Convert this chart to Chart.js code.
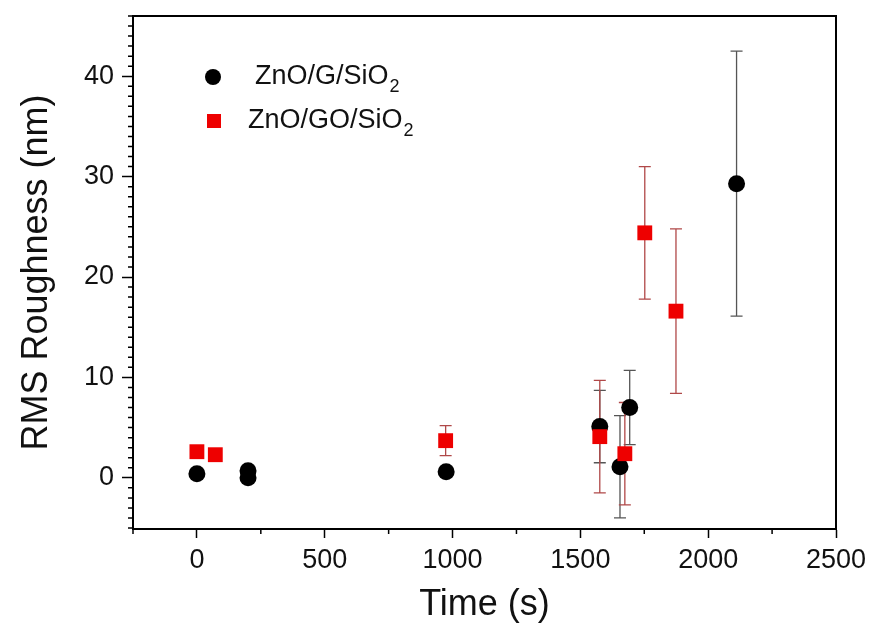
<!DOCTYPE html>
<html>
<head>
<meta charset="utf-8">
<script src="https://cdn.jsdelivr.net/npm/chart.js@4.4.1/dist/chart.umd.min.js"></script>
<style>
  html, body { margin: 0; padding: 0; background: #fff; }
  #wrap { width: 878px; height: 636px; }
</style>
</head>
<body>
<div id="wrap"><canvas id="chart_1" width="878" height="636"></canvas></div>
<script>
// ZnO/G/SiO2 (black circles)
const gTime = [0, 200, 200, 975, 1576, 1655, 1693, 2111];
const gRms = [0.4, 0.7, 0.0, 0.6, 5.1, 1.1, 7.0, 29.3];
const gErr = [0, 0, 0, 0, 3.6, 5.1, 3.7, 13.2];

// ZnO/GO/SiO2 (red squares)
const goTime = [0, 72, 973, 1576, 1674, 1752, 1874];
const goRms = [2.6, 2.3, 3.7, 4.1, 2.4, 24.4, 16.6];
const goErr = [0, 0, 1.5, 5.6, 5.1, 6.6, 8.2];

const xTicks = [0, 500, 1000, 1500, 2000, 2500];
const yTicks = [0, 10, 20, 30, 40];

const FONT = "'Liberation Sans', Arial, sans-serif";

function toPoints(xs, ys, errs) {
  return xs.map((x, i) => ({ x: x, y: ys[i], err: errs[i] }));
}

// error bars under the markers
const errorBars = {
  id: "errorBars",
  beforeDatasetsDraw(chart) {
    const ctx = chart.ctx;
    const xs = chart.scales.x;
    const ys = chart.scales.y;
    chart.data.datasets.forEach((ds) => {
      ctx.save();
      ctx.strokeStyle = ds.errColor;
      ctx.lineWidth = 1.3;
      ds.data.forEach((p) => {
        if (!p.err) return;
        const px = xs.getPixelForValue(p.x);
        const top = ys.getPixelForValue(p.y + p.err);
        const bot = ys.getPixelForValue(p.y - p.err);
        ctx.beginPath();
        ctx.moveTo(px, top);
        ctx.lineTo(px, bot);
        ctx.moveTo(px - 6, top);
        ctx.lineTo(px + 6, top);
        ctx.moveTo(px - 6, bot);
        ctx.lineTo(px + 6, bot);
        ctx.stroke();
      });
      ctx.restore();
    });
  },
};

// frame, minor ticks and the legend box inside the plot
const frameAndLegend = {
  id: "frameAndLegend",
  afterDraw(chart) {
    const ctx = chart.ctx;
    const area = chart.chartArea;
    const xs = chart.scales.x;
    const ys = chart.scales.y;
    ctx.save();
    ctx.strokeStyle = "#000";
    ctx.lineWidth = 2;
    ctx.strokeRect(area.left, area.top, area.right - area.left, area.bottom - area.top);

    // minor ticks
    ctx.lineWidth = 1.5;
    ctx.beginPath();
    for (let v = -5; v <= 46; v++) {
      if (v % 10 === 0) continue;
      const py = ys.getPixelForValue(v);
      ctx.moveTo(area.left - 5, py);
      ctx.lineTo(area.left, py);
    }
    for (let v = -250; v <= 2500; v += 500) {
      const px = xs.getPixelForValue(v);
      ctx.moveTo(px, area.bottom);
      ctx.lineTo(px, area.bottom + 5);
    }
    ctx.stroke();

    // legend
    ctx.fillStyle = "#000";
    ctx.beginPath();
    ctx.arc(213, 77, 8, 0, Math.PI * 2);
    ctx.fill();
    ctx.fillStyle = "#ee0000";
    ctx.fillRect(207, 114, 14, 14);

    ctx.fillStyle = "#111";
    ctx.textBaseline = "middle";
    const labels = [
      ["ZnO/G/SiO", 255, 77],
      ["ZnO/GO/SiO", 248, 121],
    ];
    labels.forEach(([t, x, y]) => {
      ctx.font = "27px " + FONT;
      ctx.fillText(t, x, y);
      const w = ctx.measureText(t).width;
      ctx.font = "18px " + FONT;
      ctx.fillText("2", x + w + 1, y + 10);
    });
    ctx.restore();
  },
};

const ctx = document.getElementById("chart_1").getContext("2d");

window.myChart = new Chart(ctx, {
  type: "scatter",
  data: {
    datasets: [
      {
        label: "ZnO/G/SiO2",
        data: toPoints(gTime, gRms, gErr),
        pointStyle: "circle",
        pointRadius: 8.5,
        pointHoverRadius: 8.5,
        backgroundColor: "#000",
        borderColor: "#000",
        borderWidth: 0,
        errColor: "#555",
        order: 2,
      },
      {
        label: "ZnO/GO/SiO2",
        data: toPoints(goTime, goRms, goErr),
        pointStyle: "rect",
        pointRadius: 10.5,
        pointHoverRadius: 10.5,
        backgroundColor: "#ee0000",
        borderColor: "#ee0000",
        borderWidth: 0,
        errColor: "#b04848",
        order: 1,
      },
    ],
  },
  options: {
    responsive: false,
    animation: false,
    layout: {
      padding: { top: 16, right: 42, left: 0, bottom: 0 },
    },
    scales: {
      x: {
        type: "linear",
        min: -250,
        max: 2500,
        afterFit: (s) => {
          s.height = 107;
          s.paddingRight = 0;
          s.paddingLeft = 0;
        },
        afterBuildTicks: (s) => { s.ticks = xTicks.map((v) => ({ value: v })); },
        grid: {
          drawOnChartArea: false,
          drawTicks: true,
          tickLength: 9,
          tickWidth: 1.5,
          tickColor: "#000",
        },
        border: { color: "#000", width: 2 },
        ticks: {
          color: "#111",
          padding: 6,
          maxRotation: 0,
          font: { family: FONT, size: 27 },
          callback: (v) => String(v),
        },
        title: {
          display: true,
          text: "Time (s)",
          color: "#111",
          padding: { top: 0, bottom: 9 },
          font: { family: FONT, size: 36 },
        },
      },
      y: {
        type: "linear",
        min: -5.1,
        max: 46,
        afterFit: (s) => {
          s.width = 133;
          s.paddingTop = 0;
          s.paddingBottom = 0;
        },
        afterBuildTicks: (s) => { s.ticks = yTicks.map((v) => ({ value: v })); },
        grid: {
          drawOnChartArea: false,
          drawTicks: true,
          tickLength: 11,
          tickWidth: 1.5,
          tickColor: "#000",
        },
        border: { color: "#000", width: 2 },
        ticks: {
          color: "#111",
          padding: 8,
          font: { family: FONT, size: 27 },
          callback: (v) => String(v),
        },
        title: {
          display: true,
          text: "RMS Roughness (nm)",
          color: "#111",
          padding: { top: 15, bottom: 0 },
          font: { family: FONT, size: 36 },
        },
      },
    },
    plugins: {
      legend: { display: false },
      tooltip: { enabled: false },
    },
  },
  plugins: [errorBars, frameAndLegend],
});
</script>
</body>
</html>
